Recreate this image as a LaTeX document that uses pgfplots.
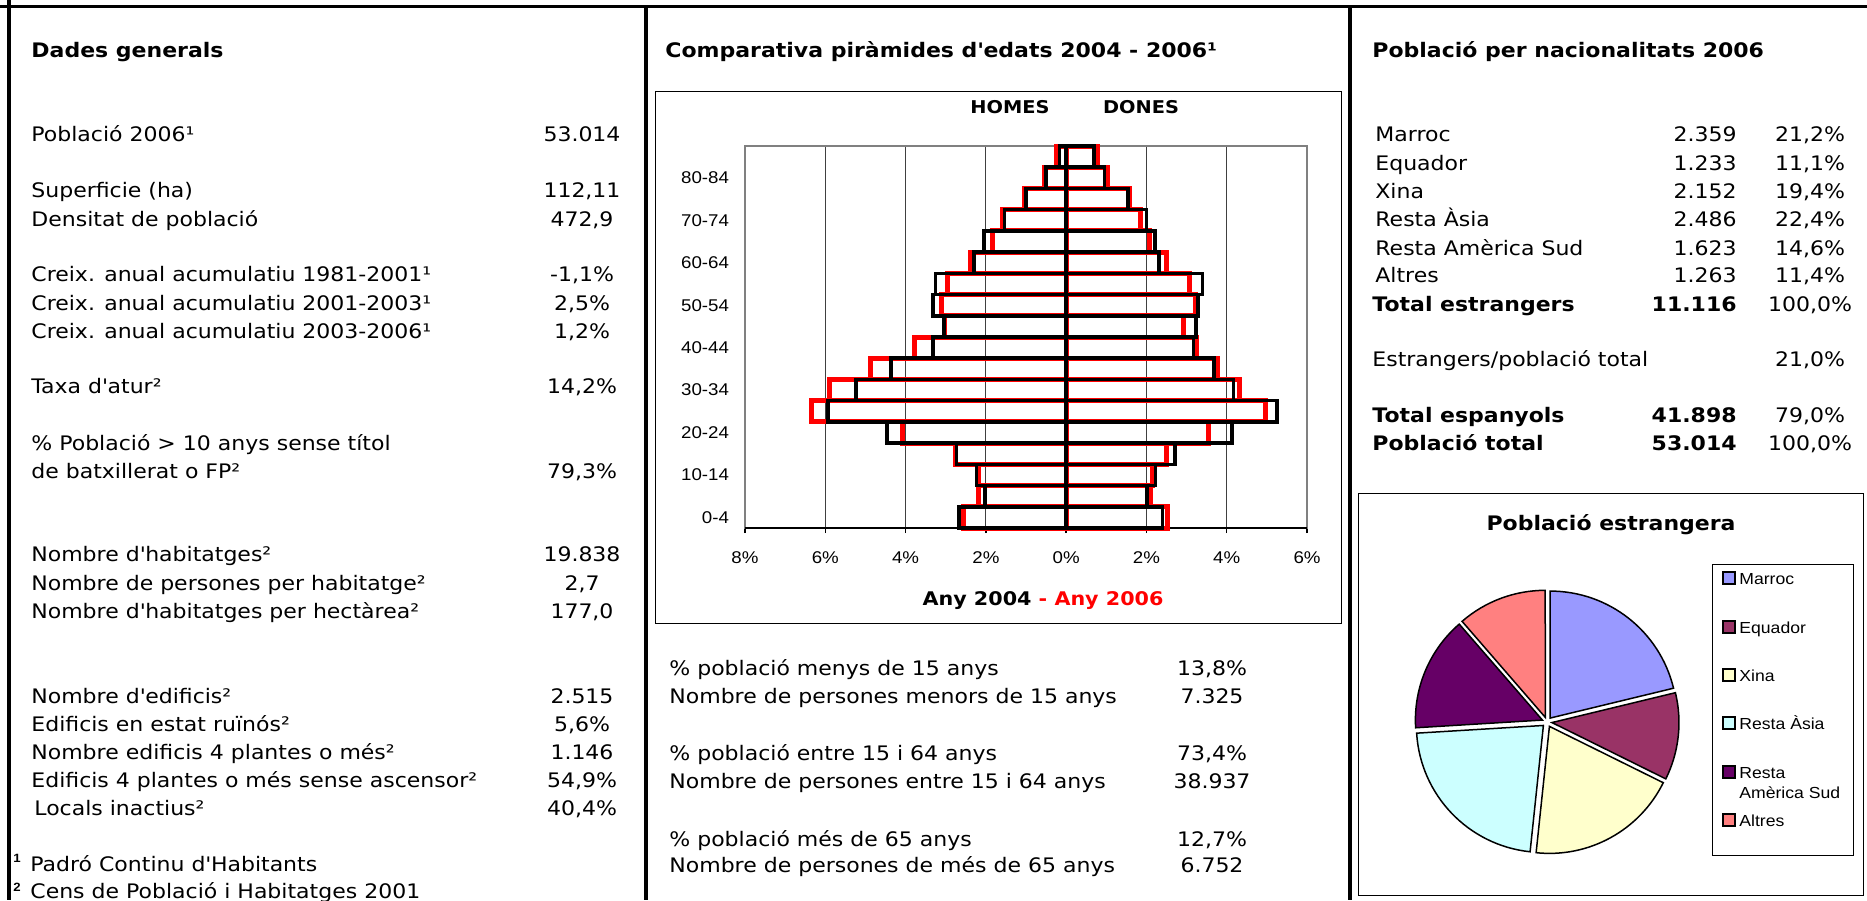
\documentclass[border=0pt]{standalone}
\usepackage{fontspec}
\setmainfont{DejaVu Sans}[FakeStretch=1.1]
\newfontfamily\arial{Liberation Sans}[FakeStretch=1.1]
\usepackage{pgfplots}
\usepackage{pgfplotstable}
\pgfplotsset{compat=1.18}

\definecolor{marroc}{HTML}{9999FF}
\definecolor{equador}{HTML}{993366}
\definecolor{xina}{HTML}{FFFFCC}
\definecolor{asia}{HTML}{CCFFFF}
\definecolor{amsud}{HTML}{660066}
\definecolor{altres}{HTML}{FF8080}

\newcommand\ap{\textquotesingle}
% text helpers, coordinates in pixels of the reference
\newcommand\tl[3]{\node[anchor=base west,inner sep=0pt] at (#1,#2) {#3};}
\newcommand\tc[3]{\node[anchor=base,inner sep=0pt] at (#1,#2) {#3};}
\newcommand\tr[3]{\node[anchor=base east,inner sep=0pt] at (#1,#2) {#3};}

% piramide: % of population, men negative; row 0 = 0-4 ... row 17 = 85+
\pgfplotstableread{
age m04 m06 w04 w06
0  -2.67 -2.56 2.40 2.52
1  -2.02 -2.19 2.02 2.10
2  -2.23 -2.19 2.23 2.15
3  -2.73 -2.75 2.71 2.50
4  -4.46 -4.07 4.13 3.54
5  -5.94 -6.35 5.25 4.96
6  -5.23 -5.89 4.17 4.31
7  -4.36 -4.88 3.68 3.77
8  -3.31 -3.79 3.17 3.25
9  -3.04 -3.02 3.23 2.93
10 -3.32 -3.10 3.29 3.23
11 -3.25 -2.96 3.40 3.08
12 -2.29 -2.39 2.31 2.50
13 -2.04 -1.83 2.21 2.08
14 -1.54 -1.58 2.00 1.85
15 -1.00 -1.04 1.54 1.58
16 -0.50 -0.54 0.96 1.04
17 -0.17 -0.25 0.69 0.78
}\pyr

\begin{document}
\begin{tikzpicture}[x=0.5pt,y=-0.5pt,font=\fontsize{10}{12}\selectfont]
\useasboundingbox (0,0) rectangle (1867,900);

% frame
\draw[line width=1.75pt] (0,6.5) -- (1867,6.5);
\draw[line width=2pt] (9,0) -- (9,900);
\draw[line width=2pt] (646,6.5) -- (646,900);
\draw[line width=2pt] (1350,6.5) -- (1350,900);

% ---- Dades generals
\tl{31}{57}{\bfseries Dades generals}
\tl{31}{141}{Població 2006¹}                          \tc{582}{141}{53.014}
\tl{31}{197}{Superficie (ha)}                          \tc{582}{197}{112,11}
\tl{31}{226}{Densitat de població}                     \tc{582}{226}{472,9}
\tl{31}{281}{Creix. anual acumulatiu 1981-2001¹}       \tc{582}{281}{-1,1\%}
\tl{31}{310}{Creix. anual acumulatiu 2001-2003¹}       \tc{582}{310}{2,5\%}
\tl{31}{338}{Creix. anual acumulatiu 2003-2006¹}       \tc{582}{338}{1,2\%}
\tl{31}{393}{Taxa d\ap atur²}                          \tc{582}{393}{14,2\%}
\tl{31}{450}{\% Població > 10 anys sense títol}
\tl{31}{478}{de batxillerat o FP²}                     \tc{582}{478}{79,3\%}
\tl{31}{561}{Nombre d\ap habitatges²}                  \tc{582}{561}{19.838}
\tl{31}{590}{Nombre de persones per habitatge²}        \tc{582}{590}{2,7}
\tl{31}{618}{Nombre d\ap habitatges per hectàrea²}     \tc{582}{618}{177,0}
\tl{31}{703}{Nombre d\ap edificis²}                    \tc{582}{703}{2.515}
\tl{31}{731}{Edificis en estat ruïnós²}                \tc{582}{731}{5,6\%}
\tl{31}{759}{Nombre edificis 4 plantes o més²}         \tc{582}{759}{1.146}
\tl{31}{787}{Edificis 4 plantes o més sense ascensor²} \tc{582}{787}{54,9\%}
\tl{34}{815}{Locals inactius²}                         \tc{582}{815}{40,4\%}
\tl{13}{862}{\arial\bfseries\fontsize{6}{7}\selectfont 1}
\tl{30}{871}{Padró Continu d\ap Habitants}
\tl{13}{891}{\arial\bfseries\fontsize{6}{7}\selectfont 2}
\tl{30}{898}{Cens de Població i Habitatges 2001}

% ---- piramide
\tl{665}{57}{\bfseries Comparativa piràmides d\ap edats 2004 - 2006¹}
\draw[line width=0.5pt] (655,91) rectangle (1341,623);
\tc{1010}{113}{\bfseries\fontsize{8.8}{10}\selectfont HOMES}
\tc{1141}{113}{\bfseries\fontsize{8.8}{10}\selectfont DONES}
\tc{1043}{605}{\bfseries\fontsize{9.4}{11}\selectfont Any 2004 \textcolor{red}{- Any 2006}}

\begin{axis}[
    at={(372.5pt,-264pt)}, anchor=south west,
    scale only axis, width=281pt, height=191pt,
    xbar,
    every axis plot/.append style={bar width=1, bar shift=0pt, fill=none},
    xmin=-8, xmax=6, ymin=-0.5, ymax=17.5,
    xtick={-8,-6,...,6},
    xticklabels={8\%,6\%,4\%,2\%,0\%,2\%,4\%,6\%},
    ytick={0,2,...,16},
    yticklabels={0-4,10-14,20-24,30-34,40-44,50-54,60-64,70-74,80-84},
    xmajorgrids,
    major grid style={black!75, line width=0.5pt},
    axis line style={gray, line width=1pt},
    tick align=outside, xtick pos=lower,
    ytick style={draw=none},
    xtick style={black, line width=0.75pt},
    major tick length=2.5pt,
    ticklabel style={font=\arial\fontsize{8.5}{10}\selectfont},
    xticklabel style={yshift=-6pt},
    yticklabel style={xshift=-2pt},
    clip=false,
]
\draw[black, line width=1pt] (axis cs:-8,-0.5) -- (axis cs:6,-0.5);
\addplot[draw=red, line width=2.5pt] table[x=m06, y=age] {\pyr};
\addplot[draw=red, line width=2.5pt] table[x=w06, y=age] {\pyr};
\addplot[draw=black, line width=1.8pt] table[x=m04, y=age] {\pyr};
\addplot[draw=black, line width=1.8pt] table[x=w04, y=age] {\pyr};
\end{axis}

\tl{669}{675}{\% població menys de 15 anys}          \tc{1212}{675}{13,8\%}
\tl{669}{703}{Nombre de persones menors de 15 anys} \tc{1212}{703}{7.325}
\tl{669}{760}{\% població entre 15 i 64 anys}        \tc{1212}{760}{73,4\%}
\tl{669}{788}{Nombre de persones entre 15 i 64 anys} \tc{1212}{788}{38.937}
\tl{669}{846}{\% població més de 65 anys}            \tc{1212}{846}{12,7\%}
\tl{669}{872}{Nombre de persones de més de 65 anys}  \tc{1212}{872}{6.752}

% ---- nacionalitats
\tl{1372}{57}{\bfseries Població per nacionalitats 2006}
\tl{1375}{141}{Marroc}            \tr{1737}{141}{2.359} \tc{1810}{141}{21,2\%}
\tl{1375}{170}{Equador}           \tr{1737}{170}{1.233} \tc{1810}{170}{11,1\%}
\tl{1375}{198}{Xina}              \tr{1737}{198}{2.152} \tc{1810}{198}{19,4\%}
\tl{1375}{226}{Resta Àsia}        \tr{1737}{226}{2.486} \tc{1810}{226}{22,4\%}
\tl{1375}{255}{Resta Amèrica Sud} \tr{1737}{255}{1.623} \tc{1810}{255}{14,6\%}
\tl{1375}{282}{Altres}            \tr{1737}{282}{1.263} \tc{1810}{282}{11,4\%}
\tl{1372}{311}{\bfseries Total estrangers} \tr{1737}{311}{\bfseries 11.116} \tc{1810}{311}{100,0\%}
\tl{1372}{366}{Estrangers/població total}  \tc{1810}{366}{21,0\%}
\tl{1372}{422}{\bfseries Total espanyols}  \tr{1737}{422}{\bfseries 41.898} \tc{1810}{422}{79,0\%}
\tl{1372}{450}{\bfseries Població total}   \tr{1737}{450}{\bfseries 53.014} \tc{1810}{450}{100,0\%}

% ---- pie
\draw[line width=0.5pt] (1358,493) rectangle (1863,895);
\tc{1611}{530}{\bfseries Població estrangera}
\begin{scope}[shift={(1547,722)}]
\foreach \val/\col [remember=\pb as \pa (initially 90)] in
    {2359/marroc,1233/equador,2152/xina,2486/asia,1623/amsud,1263/altres}{
  \pgfmathsetmacro\pb{\pa-\val/11116*360}
  \pgfmathsetmacro\pm{(\pa+\pb)/2}
  \filldraw[fill=\col, draw=black, line width=0.75pt, shift={(\pm:2.5pt)}]
    (0,0) -- (\pa:63.5pt) arc[start angle=\pa, end angle=\pb, radius=63.5pt] -- cycle;
}
\end{scope}

% legend
\draw[line width=0.5pt] (1712,564) rectangle (1853,855);
\foreach \yy/\col in {578/marroc,627/equador,675/xina,723/asia,772/amsud,820/altres}{
  \filldraw[fill=\col, draw=black, line width=0.7pt] (1723,\yy-6) rectangle (1735,\yy+6);
}
\begin{scope}[font=\arial\fontsize{8}{9}\selectfont]
\tl{1739}{584}{Marroc}
\tl{1739}{633}{Equador}
\tl{1739}{681}{Xina}
\tl{1739}{729}{Resta Àsia}
\tl{1739}{778}{Resta}
\tl{1739}{798}{Amèrica Sud}
\tl{1739}{826}{Altres}
\end{scope}
\end{tikzpicture}
\end{document}
